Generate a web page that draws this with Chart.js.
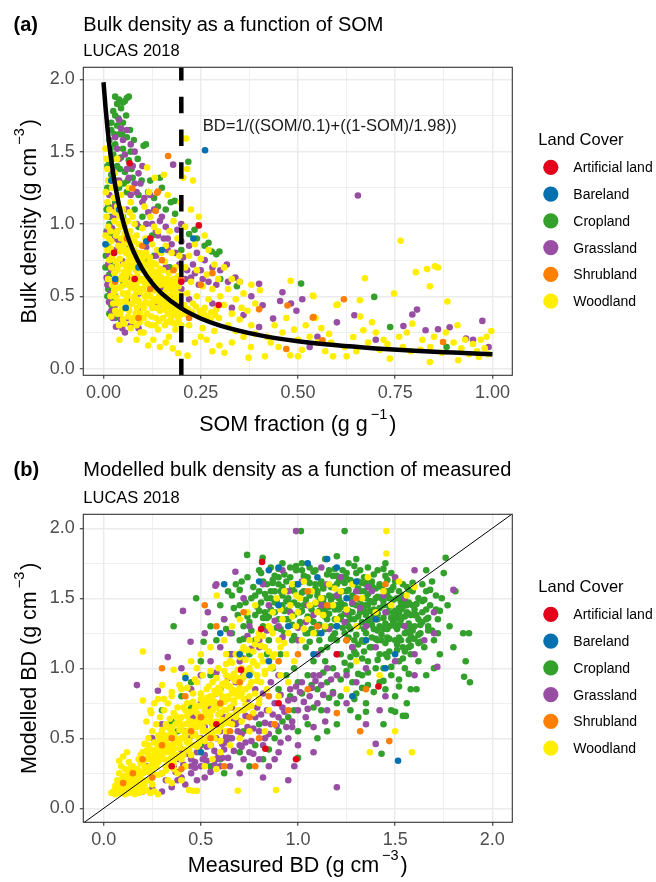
<!DOCTYPE html>
<html>
<head>
<meta charset="utf-8">
<title>Bulk density and SOM, LUCAS 2018</title>
<script src="https://cdn.jsdelivr.net/npm/chart.js@4.4.1/dist/chart.umd.min.js"></script>
<style>
  html, body { margin: 0; padding: 0; background: #fff; }
  .panel { position: relative; width: 656px; }
  #pa { height: 447px; }
  #pb { height: 435px; }
</style>
</head>
<body>
<div class="panel" id="pa"><canvas id="chartA"></canvas></div>
<div class="panel" id="pb"><canvas id="chartB"></canvas></div>
<script>
const FONT = "'Liberation Sans', Arial, Helvetica, sans-serif";
Chart.defaults.font.family = FONT;

const landCover = ["Artificial land", "Bareland", "Cropland", "Grassland", "Shrubland", "Woodland"];
const coverColours = ["#E3001B", "#0570B0", "#33A02C", "#984EA3", "#FF7F00", "#FFEE00"];
// lower number is drawn later (on top)
const drawRank = [1, 2, 6, 5, 3, 4];

const xTicksA = [0, 0.25, 0.5, 0.75, 1];
const yTicks = [0, 0.5, 1, 1.5, 2];
const xTicksB = [0, 0.5, 1, 1.5, 2];

// (a) pairs: SOM fraction, bulk density
const somArtificial = [.067,1.42,.245,.99,.027,.8,.296,.44,.08,.62,.2,.6,.12,.9];
const somBareland = [.261,1.51,.057,.42,.005,.86,.11,.88,.231,.9,.02,1.3,.04,1.1,.09,.7,.15,.82,.03,.62];
const somCropland = [.03,1.88,.04,1.86,.05,1.84,.06,1.87,.055,1.85,.035,1.83,.065,1.88,.045,1.8,.025,1.78,.03,1.75,.02,1.7,.035,1.68,.05,1.7,.02,1.65,.04,1.62,.06,1.6,.015,1.58,.03,1.55,.05,1.52,.07,1.5,.025,1.48,.045,1.46,.065,1.44,.015,1.42,.035,1.4,.055,1.36,.075,1.32,.02,1.34,.04,1.25,.06,1.22,.09,1.2,.01,1.25,.03,1.15,.05,1.05,.08,1.1,.103,1.54,.109,1.55,.218,1.43,.173,1.15,.183,1.16,.184,1.07,.14,1.12,.12,1.3,.15,1.25,.1,1.05,.015,1,.02,.92,.01,.85,.025,.72,.015,.65,.02,.6,.01,.5,.025,.46,.015,.38,.03,.35,.04,.38,.05,.58,.065,.85,.035,.95,.11,.75,.17,.7,.2,.82,.22,.93,.24,.9,.26,.85,.278,.81,.298,.81,.343,.57,.27,.87,.29,.79,.3,.62,.234,.96,.508,.588,.696,.496,.737,.288,.882,.15,.09,.98,.13,.78,.16,.6,.19,.58,.01,1.4,.008,1.1,.005,.7,.012,.55,
.018,1.52,.028,1.62,.038,1.73,.048,1.62,.058,1.75,.068,1.65,.078,1.58,.088,1.45,.098,1.3,.022,1.45,.032,1.3,.042,1.38,.052,1.28,.062,1.3,.072,1.38,.012,1.12,.018,1.05,.008,.95,.006,.78,.014,.7,.01,.62,.02,.44,.03,.5,.115,1.22,.13,1.18,.145,1.32,.16,1.1,.125,.92];
const somGrassland = [.04,1.72,.06,1.65,.05,1.58,.07,1.55,.03,1.6,.08,1.5,.1,1.4,.179,1.41,.08,1.28,.09,1.35,.06,1.38,.04,1.45,.02,1.3,.015,1.2,.025,1.05,.01,.95,.03,.9,.015,.78,.02,.68,.01,.58,.025,.52,.03,.44,.02,.4,.045,.34,.07,.3,.055,.25,.12,1.2,.13,1.1,.15,1.05,.11,1,.14,.92,.16,.98,.165,.9,.19,.96,.2,.88,.22,.85,.24,.8,.23,.72,.26,.75,.25,.68,.28,.7,.3,.68,.317,.72,.339,.63,.32,.6,.29,.58,.27,.6,.1,.7,.12,.62,.09,.52,.15,.56,.17,.5,.2,.55,.22,.48,.14,.44,.18,.38,.09,.42,.06,.47,.07,.63,.08,.8,.05,.74,.04,.88,.06,1.1,.1,1.15,.04,1.3,.07,1.2,.2,1,.28,.45,.33,.42,.36,.37,.4,.586,.409,.438,.436,.346,.4,.288,.46,.528,.454,.468,.482,.45,.496,.4,.511,.48,.53,.15,.645,.369,.654,1.197,.771,.295,.794,.374,.806,.408,.828,.265,.86,.272,.89,.286,.932,.208,.974,.33,.95,.2,.99,.15,.6,.32,.7,.2,.55,.22,.35,.6,.38,.5,.12,.88,.135,.78,.16,.7,.085,1,.11,.84,.21,.62,
.025,1.36,.035,1.52,.045,1.66,.055,1.48,.065,1.32,.075,1.4,.085,1.22,.095,1.28,.105,1.18,.115,1.08,.125,1,.135,.95,.145,1.02,.155,.9,.165,.82,.175,.86,.185,.8,.195,.72,.205,.77,.215,.68,.225,.63,.235,.66,.245,.58,.255,.62,.012,.72,.018,.52,.008,.63,.022,.97,.032,.82,.028,1.12,.014,.46,.024,.35,.048,.28,.062,.35,.09,.28,.032,.29];
const somShrubland = [.166,1.47,.138,1.215,.074,1.245,.134,1.09,.14,1.225,.06,.9,.1,.85,.15,.75,.18,.68,.2,.62,.12,.55,.25,.58,.22,.35,.09,.35,.4,.41,.473,.436,.538,.353,.47,.136,.563,.196,.618,.48,.873,.184,.54,.357,.03,.6,.28,.66];
const somWoodland = [.005,1.52,.008,1.45,.01,1.38,.012,1.3,.006,1.22,.01,1.15,.015,1.1,.008,1.05,.012,.98,.018,.95,.005,.92,.02,.88,.01,.82,.025,.8,.015,.75,.02,.7,.028,.66,.012,.62,.022,.58,.03,.55,.018,.5,.025,.45,.03,.4,.02,.36,.028,1.35,.022,1.25,.026,1.18,.03,1.08,.028,1.02,.032,.92,
.035,1.45,.04,1.28,.045,1.2,.035,1.12,.05,1.1,.04,1,.055,.98,.045,.9,.06,.92,.038,.85,.05,.82,.058,.8,.042,.76,.052,.72,.06,.7,.036,.68,.048,.64,.056,.6,.04,.56,.05,.52,.06,.5,.045,.46,.055,.42,.035,.38,.05,.34,.04,.3,.058,.88,.035,.95,.062,1.02,.048,1.05,.041,.2,
.065,1.25,.07,1.15,.075,1.05,.08,1,.068,.95,.085,.92,.072,.88,.09,.86,.078,.82,.095,.8,.066,.78,.082,.75,.07,.72,.088,.7,.098,.68,.064,.66,.076,.63,.092,.62,.084,.58,.07,.56,.096,.55,.062,.52,.08,.5,.09,.47,.074,.45,.086,.42,.066,.4,.094,.38,.078,.35,.085,.3,.07,.28,.095,.25,.085,.2,.1,.97,.067,1.08,
.112,1.39,.117,1.22,.132,1.32,.105,1.12,.12,1.05,.13,.98,.14,.95,.108,.9,.125,.86,.138,.82,.148,.8,.103,.77,.118,.74,.135,.72,.145,.69,.11,.66,.128,.64,.142,.6,.115,.58,.102,.55,.132,.54,.148,.52,.12,.5,.108,.46,.138,.47,.125,.42,.145,.4,.112,.38,.135,.35,.103,.25,.122,.3,.14,.27,.128,.2,.115,.16,.145,.15,.1,.62,
.155,1.34,.165,1.2,.198,1.15,.18,1.02,.17,.95,.19,.9,.16,.85,.175,.8,.195,.78,.158,.74,.185,.7,.168,.66,.192,.64,.152,.6,.178,.58,.162,.55,.188,.52,.172,.48,.196,.46,.155,.44,.182,.42,.165,.38,.19,.36,.175,.32,.158,.3,.185,.27,.168,.22,.192,.106,.178,.14,.16,.18,.2,.3,
.044,.62,.053,.67,.063,.74,.073,.77,.083,.68,.093,.73,.104,.7,.113,.61,.123,.68,.133,.6,.143,.64,.153,.68,.163,.62,.173,.6,.183,.55,.193,.57,.113,.52,.123,.56,.133,.48,.143,.5,.153,.48,.163,.45,.173,.42,.183,.47,.193,.41,.103,.42,.093,.53,.083,.54,.073,.6,.063,.58,
.033,.49,.047,.57,.057,.63,.067,.69,.077,.71,.087,.64,.097,.61,.107,.59,.117,.65,.127,.57,.137,.55,.147,.58,.157,.52,.167,.5,.177,.53,.187,.49,.197,.51,.037,.71,.043,.81,.053,.86,.063,.82,.069,.91,.079,.88,.089,.78,.099,.75,.109,.8,.119,.77,.129,.73,.139,.66,.149,.63,.159,.6,.169,.57,.179,.62,.189,.6,.027,.53,.038,.45,.047,.41,.057,.47,.067,.44,.077,.49,.087,.47,.097,.44,.107,.5,.117,.45,.127,.46,.137,.42,.147,.45,.157,.41,.167,.43,.177,.38,.187,.4,.197,.37,
.207,.44,.217,.41,.227,.39,.237,.43,.247,.4,.257,.38,.267,.36,.277,.39,.287,.37,.297,.35,.043,.38,.053,.31,.063,.36,.073,.33,.083,.38,.093,.32,.103,.35,.113,.31,.123,.36,.133,.3,.143,.33,.153,.35,.163,.32,.173,.34,.183,.31,.193,.33,.034,1.18,.042,1.05,.046,.98,.054,.93,.061,.87,.071,.84,.081,.79,.091,.76,.101,.73,.111,.71,.121,.71,.131,.67,.141,.62,.151,.6,.161,.58,.171,.55,.181,.52,.191,.48,.031,.74,.036,.62,.026,.6,.022,.77,.018,.83,.014,.9,
.212,1.59,.215,1.38,.205,1.32,.23,1.3,.225,1.1,.245,1.05,.21,.98,.26,.92,.235,.86,.27,.82,.22,.78,.25,.76,.285,.72,.21,.7,.24,.68,.265,.65,.295,.62,.225,.6,.255,.57,.28,.55,.215,.52,.24,.5,.27,.48,.3,.5,.23,.45,.26,.42,.29,.41,.21,.38,.245,.36,.275,.34,.22,.3,.255,.28,.285,.26,.216,.09,.235,.18,.265,.2,.298,.16,.28,.12,.25,.22,
.31,.7,.33,.62,.35,.6,.38,.58,.32,.55,.36,.52,.34,.48,.39,.45,.31,.44,.37,.4,.33,.38,.35,.34,.32,.3,.38,.3,.34,.26,.36,.22,.311,.11,.33,.18,.373,.076,.379,.15,.39,.24,.402,.542,.355,.42,
.415,.085,.42,.22,.44,.3,.43,.18,.46,.25,.48,.092,.481,.607,.5,.085,.5,.2,.52,.3,.53,.22,.538,.505,.55,.18,.56,.28,.57,.12,.58,.24,.59,.085,.599,.44,.54,.5,.602,.443,.45,.15,.47,.35,.49,.27,.51,.13,.545,.35,.585,.18,
.625,.085,.642,.219,.659,.473,.668,.265,.672,.625,.68,.18,.7,.25,.71,.13,.72,.2,.736,.069,.747,.519,.76,.22,.764,.884,.77,.15,.78,.25,.794,.311,.79,.12,.62,.15,.65,.12,.69,.32,.73,.17,.66,.36,
.803,.667,.832,.688,.852,.708,.86,.699,.839,.57,.839,.046,.82,.2,.84,.15,.85,.22,.87,.11,.884,.464,.9,.18,.912,.058,.92,.14,.93,.2,.94,.1,.95,.17,.96,.12,.97,.2,.98,.14,.99,.1,.997,.26,.985,.22,.965,.08,.88,.25,.91,.3,.815,.13];

// (a) fitted curve, read along the drawn line, and the 0.2 cut-off
const curveSOM = [0, .005, .01, .015, .02, .03, .04, .05, .06, .075, .1, .125, .15, .2, .25, .3, .4, .5, .6, .7, .8, .9, 1];
const curveBD = [1.98, 1.81, 1.667, 1.544, 1.439, 1.266, 1.13, 1.021, .93, .822, .688, .591, .518, .416, .347, .298, .232, .19, .161, .14, .123, .111, .1];
const somCutoff = 0.2;
const curveLabel = "BD=1/((SOM/0.1)+((1-SOM)/1.98))";

// (b) pairs: measured BD, modelled BD
const bdArtificial = [.815,1.76,.81,1.28,.707,.99,1.414,.87,.832,.425,.99,.35,.58,.6,.9,.75,1.2,1.1,.35,.3];
const bdBareland = [.421,.93,.8,1.62,.85,1.7,.9,1.72,1,1.6,1.05,1.75,1.1,1.65,1.15,1.78,1.2,1.72,1.25,1.5,1.3,1.62,1.35,1.2,1.4,1.35,1.45,1,1.5,1.1,1.515,.34,.95,1.3,.9,1.45,1.08,1.1,1.2,1.3,.7,1.1,.75,.95,.6,1.25,.5,.4,.85,1.05,1.28,.8,.62,1.6,1.12,1.25];
const bdCropland = [.6,1.45,.62,1.35,.64,1.55,.66,1.25,.68,1.6,.7,1.45,.72,1.3,.74,1.65,.76,1.5,.78,1.38,.8,1.7,.738,1.81,.818,1.79,.476,1.5,.36,1.3,.514,1.19,.55,1.3,.58,1.2,.5,1.05,.45,.9,.65,1.1,.7,1.2,.75,1.1,.8,1.55,.78,1.2,
.82,1.62,.84,1.5,.86,1.72,.88,1.4,.9,1.6,.92,1.75,.94,1.48,.96,1.65,.98,1.38,.82,1.3,.85,1.2,.88,1.55,.9,1.35,.93,1.25,.95,1.5,.97,1.2,.99,1.7,.84,1.1,.87,1,.91,1.1,.94,.95,.98,1,1,.9,.9,.85,.96,.8,1.015,1.98,.86,1.42,.92,1.45,.98,1.55,.83,1.4,
1,1.6,1.01,1.3,1.02,1.75,1.03,1.45,1.04,1.15,1.05,1.65,1.06,1.35,1.07,1.55,1.08,1.05,1.09,1.7,1.1,1.25,1.11,1.48,1.12,1.6,1.13,1.38,1.14,1.78,1.15,1.15,1.16,1.52,1.17,1.3,1.18,1.66,1.19,1.42,1.2,1.2,1.2,1.8,1.05,.95,1.1,.85,1.15,.9,1.2,.75,1.12,.7,1.18,1,1.02,.82,1.08,.72,1.04,1.25,1.14,1.05,1.06,1.72,1.16,1.7,1.24,1.98,
1.21,1.5,1.22,1.35,1.23,1.65,1.24,1.25,1.25,1.55,1.26,1.75,1.27,1.4,1.28,1.15,1.29,1.6,1.3,1.45,1.31,1.3,1.32,1.7,1.33,1.2,1.34,1.55,1.35,1.38,1.36,1.05,1.37,1.48,1.38,1.62,1.39,1.28,1.4,1.5,1.22,1.1,1.25,.98,1.28,.9,1.3,.82,1.33,.95,1.36,.88,1.38,1.15,1.4,1,1.26,1.3,1.32,1.4,1.35,1.6,1.24,1.45,1.29,1.2,1.34,1.12,1.38,1.35,1.22,.8,1.27,.7,1.31,.65,1.35,.75,1.25,1.68,1.3,1.78,1.36,1.72,
1.41,1.35,1.42,1.6,1.43,1.2,1.44,1.45,1.45,1.1,1.46,1.55,1.47,1.3,1.48,1.68,1.49,1.4,1.5,1.2,1.51,1.5,1.52,1.05,1.53,1.35,1.54,1.6,1.55,1.25,1.56,1.45,1.57,1.15,1.58,1.38,1.59,1.55,1.6,1.3,1.42,.9,1.45,.85,1.48,.95,1.5,.8,1.52,.92,1.55,1,1.58,.85,1.43,.39,1.54,.66,1.555,.66,1.44,1,1.46,1.22,1.5,1.62,1.53,1.42,1.57,1.2,1.41,1.7,1.45,1.75,1.47,1.5,1.51,1.28,1.6,1.42,1.56,.75,1.48,.7,1.44,.6,
1.62,1.5,1.63,1.25,1.64,1.4,1.65,1.15,1.66,1.55,1.67,1.3,1.68,1.45,1.7,1.2,1.72,1.35,1.74,1.5,1.75,1.68,1.76,1.79,1.78,1.3,1.8,1.15,1.81,1.55,1.85,1.25,1.88,1.25,1.863,1.05,1.855,.94,1.885,.9,1.62,1.05,1.66,.95,1.7,1,1.64,1.6,1.69,1.62,1.73,1.1,1.77,1.45,1.61,.85,1.66,1.7,
1.01,1.4,1.03,1.55,1.05,1.25,1.07,1.42,1.09,1.6,1.11,1.2,1.13,1.5,1.15,1.35,1.17,1.58,1.19,1.25,1.21,1.42,1.23,1.55,1.25,1.2,1.27,1.5,1.29,1.35,1.31,1.62,1.33,1.45,1.35,1.25,1.37,1.58,1.39,1.42,1.41,1.2,1.43,1.5,1.45,1.32,1.47,1.12,1.49,1.58,1.51,1.38,1.53,1.2,1.55,1.48,1.57,1.32,1.59,1.45,1.3,1.1,1.34,1.28,1.38,1.22,1.42,1.1,1.46,1.4,1.5,1.3,1.54,1.15,1.58,1.1,1.62,1.35,1.66,1.42,1.1,1.55,1.2,1.6,1.14,1.42,1.26,1.38,1.36,1.45,1.44,1.28,1.52,1.55,
1.13,1.47,1.27,1.63,.97,1.58,1.41,1.27,1.36,1.53,1.08,1.33,1.52,1.43,1.19,1.71,.88,1.66,1.31,1.17,1.46,1.63,1.23,1.29,1.04,1.49,1.58,1.23,1.37,1.41,.93,1.41,1.17,1.21,1.29,1.73,1.48,1.36,1.12,1.62,1.43,1.58,.81,1.47,1.33,1.33,1.21,1.53,1.06,1.19,1.54,1.52,1.27,1.08,.99,1.73,1.39,1.67,1.16,1.39,1.63,1.31,1.24,1.61,.91,1.28,1.47,1.21,1.32,1.49,1.09,1.57,1.57,1.39,1.22,1.37,1.01,1.33,1.44,1.71,1.34,1.19,1.14,1.28,1.51,1.13,.86,1.55,1.28,1.46,1.42,1.43,1.18,1.51,1.61,1.46,1.36,1.62,.96,1.46,1.26,1.22,1.49,1.49,1.11,1.41,1.67,1.27,1.38,1.31,1.03,1.66,1.53,1.31,1.2,1.45,.84,1.36,1.31,1.57,1.45,1.18,1.15,1.67,1.59,1.61,1.25,1.33,1.07,1.28,1.4,1.57,1.33,1.07,.94,1.62,1.19,1.35,1.55,1.37,1.28,1.52,1.46,1.28,1.02,1.41,1.71,1.42,1.35,1.45,1.12,1.13,1.62,1.18,1.23,1.7,.89,1.48,1.5,1.41,1.3,1.24,1.1,1.52,1.44,1.36,1.37,1.15,1.21,1.62,1.56,1.58,.98,1.23,1.26,1.41,1.41,1.51,1.16,1.44,1.64,1.48,1.34,1.65,1.05,1.37,1.52,1.22,1.27,1.28,.92,1.52,1.48,1.56,1.18,1.23,1.39,1.38,1.58,1.29,1.09,1.46,1.32,1.55,1.43,1.24,1.25,1.64,1.6,1.38,.95,1.35,1.2,1.3,1.47,1.44,1.35,1.5,1.13,1.57,1.54,1.44,1.29,1.12,1.38,1.59,1.02,1.54,1.5,1.35,1.22,1.47,1.66,1.35,1.42,1.3,1.08,1.69,1.31,1.37,1.45,1.66,.87,1.61,1.17,1.49,1.56,1.26,1.24,1.39,1.4,1.21,1.36,1.34,1.14,1.37,1.53,1.5,1.26,1.56,1,1.45,1.44,1.48,1.2,1.66,1.33,1.61,1.62,1.24,1.11,1.31,1.49,1.33,1.28,1.4,1.39,1.47,.9,1.71,1.23,1.44,1.57,1.47,1.34,1.41,1.06,1.61,1.46,1.52,1.3,1.68,1.18,1.58,1.52,1.39,1.41,1.39,1.27,1.35,
1.13,.97,1.27,1.02,1.41,1.06,1.33,.86,1.48,1.01,1.22,.92,1.36,.97,1.52,.87,1.18,.83,1.44,.91,1.29,.78,1.39,.83,1.07,.88,1.24,1.04,1.46,1.08,1.57,.96,1.31,.96,1.16,.79,1.5,.69,1.35,.69,
.66,1.52,.69,1.38,.71,1.62,.73,1.47,.75,1.33,.77,1.58,.79,1.44,.81,1.68,.83,1.53,.85,1.37,.87,1.63,.89,1.29,.91,1.55,.93,1.67,.95,1.42,.97,1.31,.99,1.6,.72,1.21,.76,1.27,.8,1.41,.84,1.6,.88,1.47,.92,1.58,.96,1.72,.63,1.28,.67,1.43,.7,1.56,.74,1.37,.78,1.52,.82,1.36,.86,1.5,.9,1.65,.94,1.35,.98,1.47,1.02,1.7,1.06,1.52,
1.51,1.17,1.53,1.47,1.55,1.12,1.57,1.56,1.59,1.27,1.61,1.38,1.63,1.19,1.65,1.49,1.67,1.36,1.69,1.27,1.71,1.52,1.73,1.41,1.52,1.31,1.56,1.4,1.6,1.21,1.64,1.33,1.68,1.56,1.72,1.25,1.54,1.07,1.58,1.16,
.3,.7,.35,.62,.4,.8,.42,.5,.5,.45,.55,.3,.6,.35,.62,.25,.65,.5,.7,.4,.72,.55,.75,.3,.78,.45,.8,.6,.82,.35,.85,.42,.88,.5,.9,.55,.92,.62,.95,.65,.98,.7,1,.55,1.05,.6,1.1,.5,1.15,.55,1.2,.6,1,.36,.55,.95,.6,.85,.45,.72,.38,.55];
const bdGrassland = [.2,.12,.25,.14,.3,.12,.32,.2,.35,.15,.38,.2,.4,.22,.42,.17,.45,.25,.48,.2,.5,.3,.52,.22,.55,.26,.58,.35,.6,.3,.45,.35,.48,.4,.5,.5,.52,.38,.55,.45,.58,.5,.6,.55,.62,.42,.64,.36,.66,.5,.68,.6,.7,.45,.72,.35,.74,.58,.76,.48,.78,.65,.8,.55,.82,.45,.84,.7,.86,.6,.88,.75,.9,.65,.92,.72,.94,.58,.96,.85,.98,.78,1,.7,1.02,.9,1.04,.65,1.06,.8,1.08,.95,1.1,.75,1.12,.88,1.15,.7,1.18,.82,1.2,.95,.65,.3,.7,.25,.75,.4,.8,.35,.85,.3,.9,.4,.981,.3,.62,.65,.66,.72,.7,.62,.74,.78,.78,.85,.82,.82,.86,.9,.9,.95,.56,.6,.6,.68,.52,.58,.44,.5,.4,.42,.36,.3,.42,.55,.35,.4,.3,.25,.28,.35,
.171,.88,.279,.84,.33,1.08,.447,1.19,.408,1.41,.536,1.4,.575,1.59,.58,1.6,.678,1.69,.99,1.98,.4,1,.45,.85,.5,.95,.55,1.05,.6,1.15,.65,1.25,.7,1.05,.75,1.3,.8,1.15,.85,1.45,.9,1.3,.95,1.55,1,1.2,1.05,1.45,1.1,1.3,1.15,1.6,1.2,1.1,1.25,1.4,1.3,1.55,1.35,1.3,1.4,1.15,1.45,1.4,1.5,1.05,1.55,1.3,1.6,1.1,1.65,1.2,1.7,1.4,1.717,1.01,1.8,1.56,1.4,.46,1.2,.15,1.3,.9,1.35,1,1.25,.75,1.45,.8,1.38,1.55,1.22,1.65,1.12,1.72,1.02,1.62,.92,1.7,.82,1.6,.72,1.5,.62,1.35,.52,1.25,.3,.6,.25,.5,.22,.3,.18,.2,.15,.15,1.6,.95,1.7,1.25,1.08,.58,1.14,.62,1,.45,.95,.5,.88,.35,1.15,1,1.25,.95,1.28,1.15,1.1,1.1,.68,.9,.72,.95,.58,.82,.54,.72,.46,.65,.5,.75,1.5,1.65,1.55,1.5,1.6,1.7,1.42,.7,1.35,.6,1.08,.4,.95,.2,.82,.22,
.37,.26,.41,.31,.47,.29,.53,.34,.57,.41,.61,.46,.67,.41,.71,.53,.77,.57,.83,.61,.87,.67,.93,.69,.97,.62,1.03,.76,1.07,.86,1.13,.81,1.17,.92,.43,.39,.49,.43,.55,.51,.59,.39,.63,.51,.69,.55,.73,.47,.79,.72,.85,.53,.91,.81,.99,.87,1.05,.71,1.11,.95,.47,.33,.53,.44,.61,.36,.67,.62,.73,.66,.81,.67,.89,.59,.95,.77,1.01,.83,1.09,.91,.39,.35,.45,.3,.51,.35,.57,.31,.63,.47,.71,.44,.77,.39,.83,.5,.91,.47,.97,.58,
.64,.93,.72,1.07,.8,1.2,.88,1.34,.96,1.4,1.04,1.33,1.12,1.45,1.2,1.52,1.28,1.47,1.36,1.58,1.44,1.52,.76,1.14,.84,1.27,.92,1.22,1,1.29,1.08,1.38,1.16,1.28,1.24,1.33,1.32,1.43,.58,.97,.66,1.1,.74,1.23];
const bdShrubland = [.1,.18,.15,.25,.2,.35,.25,.22,.3,.45,.35,.5,.4,.28,.45,.55,.5,.65,.55,.5,.6,.75,.62,.3,.65,.55,.7,.9,.75,.65,.8,.5,.85,.8,.9,1.05,.95,.7,1,1.1,1.05,.85,1.1,1.3,1.15,1.45,1.2,.68,1.25,1.2,1.3,1.5,1.35,.85,1.4,1.35,1.47,.48,1.45,1.6,1.32,.55,.72,1.4,.58,1.3,.42,.8,.3,1,.78,.3,.88,.6,1.05,1.55,.52,1.45];
const bdWoodland = [.05,.12,.06,.1,.07,.14,.08,.11,.09,.15,.1,.12,.11,.1,.12,.14,.13,.11,.14,.16,.15,.12,.16,.1,.17,.13,.18,.11,.19,.15,.2,.12,.07,.2,.08,.25,.1,.22,.12,.2,.14,.24,.16,.2,.18,.22,.2,.18,.09,.3,.11,.28,.13,.33,.15,.3,.17,.28,.19,.32,.21,.26,.06,.16,.04,.11,.1,.37,.12,.4,.08,.34,.22,.13,.24,.11,.26,.12,.28,.1,.23,.2,.25,.17,
.2,.4,.21,.46,.22,.35,.23,.5,.24,.42,.25,.3,.25,.55,.26,.38,.27,.47,.27,.6,.28,.33,.28,.52,.29,.42,.29,.65,.3,.25,.3,.36,.3,.56,.31,.48,.31,.7,.32,.3,.32,.4,.32,.6,.33,.52,.33,.75,.34,.35,.34,.45,.34,.64,.35,.55,.35,.8,.36,.28,.36,.42,.36,.68,.37,.5,.37,.6,.38,.38,.38,.72,.39,.46,.39,.56,.4,.65,.4,.85,.22,.62,.24,.7,.26,.75,.28,.78,.3,.88,.202,1.12,.202,.77,.245,.68,.36,.99,.33,.2,.35,.18,.38,.25,.4,.2,.42,.3,.44,.13,.46,.125,.48,.125,
.41,.5,.42,.42,.42,.6,.43,.55,.43,.75,.44,.48,.44,.68,.45,.38,.45,.62,.46,.52,.46,.82,.47,.45,.47,.7,.48,.58,.48,.9,.49,.5,.49,.66,.5,.4,.5,.6,.5,.78,.51,.55,.51,.95,.52,.48,.52,.7,.53,.62,.53,.85,.54,.52,.54,.75,.55,.45,.55,.66,.56,.58,.56,.9,.57,.5,.57,.72,.58,.62,.58,.82,.59,.55,.59,1,.6,.68,.6,.48,.582,1.52,.45,1.05,.5,1.1,.55,1.15,.48,1,.42,.95,.52,.3,.56,.35,.58,.28,.6,.4,
.61,.6,.61,.78,.62,.7,.62,.88,.63,.55,.63,.95,.64,.65,.64,.8,.65,.72,.65,1.05,.66,.6,.66,.85,.67,.75,.67,.92,.68,.68,.68,1.1,.69,.8,.7,.7,.7,.9,.71,.62,.71,1,.72,.78,.72,1.15,.73,.85,.74,.72,.74,.95,.75,.8,.75,1.2,.76,.9,.77,.68,.77,1.05,.78,.82,.79,.95,.8,.75,.8,1.25,.62,1.2,.66,1.3,.7,1.35,.74,1.4,.78,1.45,.69,.125,.7,.5,.75,.55,.65,.45,.63,1.1,
.81,.9,.82,1.05,.83,1.15,.84,.85,.85,1.3,.86,1,.87,1.4,.88,1.1,.89,1.5,.887,.13,.9,1.2,.91,.95,.92,1.35,.93,1.55,.94,1.1,.95,1.25,.96,1.45,.97,1.6,.98,1.05,.99,1.3,1,1.4,1.01,1.5,1.02,1.2,1.03,1.62,1.05,1.35,1.06,1.45,1.07,1.55,1.08,1.25,1.1,1.4,1.12,1.5,1.14,1.3,1.16,1.6,1.18,1.45,1.2,1.35,.85,.7,.9,.8,.95,.9,.88,.6,.83,.55,
1.22,1.55,1.25,1.42,1.28,1.6,1.3,1.3,1.33,1.5,1.36,1.65,1.4,1.4,1.44,1.55,1.455,1.82,1.455,1.98,1.48,1.45,1.52,1.62,1.56,1.52,1.6,1.58,1.37,.4,1.586,.4,1.3,1.05,1.25,.85,1.42,.95,1.5,.55,1.35,1.2,
.12,.18,.14,.2,.16,.24,.18,.27,.2,.25,.22,.28,.24,.3,.26,.33,.28,.36,.3,.4,.32,.43,.34,.4,.36,.46,.38,.48,.4,.5,.42,.52,.44,.55,.46,.58,.48,.62,.5,.64,.52,.66,.54,.68,.56,.7,.58,.72,.6,.74,.62,.76,.64,.78,.66,.82,.68,.84,.7,.86,.23,.38,.27,.42,.31,.52,.35,.58,.39,.62,.43,.66,.47,.72,.51,.76,.55,.8,.59,.86,.63,.9,.67,.96,.71,.92,.75,1,.79,1.02,.83,.98,.87,1.08,.91,1.15,.2,.2,.25,.26,.33,.33,.37,.36,.41,.38,.45,.45,.49,.46,.53,.55,.57,.6,.61,.63,.65,.66,.69,.7,.73,.74,
.08,.13,.11,.16,.13,.22,.15,.19,.17,.23,.19,.21,.21,.3,.23,.26,.25,.34,.27,.3,.29,.39,.31,.35,.33,.44,.35,.39,.37,.48,.39,.43,.41,.55,.43,.47,.45,.58,.47,.53,.49,.64,.51,.58,.53,.69,.55,.62,.57,.76,.59,.67,.61,.8,.63,.7,.65,.87,.67,.77,.69,.93,.71,.82,.73,.97,.75,.87,.77,1.04,.79,.91,.81,1.09,.83,.96,.85,1.12,.87,1.01,
.14,.29,.18,.35,.22,.41,.26,.47,.3,.54,.34,.57,.38,.64,.42,.7,.46,.76,.5,.82,.54,.87,.58,.93,.62,.98,.66,1.04,.7,1.08,.74,1.13,.78,1.17,.82,1.23,.86,1.28,
.16,.13,.2,.15,.24,.2,.28,.24,.32,.27,.36,.32,.4,.35,.44,.41,.48,.44,.52,.49,.56,.54,.6,.58,.64,.61,.68,.65,.72,.7,.76,.73,.8,.78,
.13,.26,.19,.38,.23,.45,.29,.49,.33,.58,.37,.66,.41,.72,.45,.69,.49,.73,.53,.79,.57,.84,.61,.89,.65,.94,.69,.99,.73,1.06,.77,1.12,.81,1.16,
.06,.13,.09,.11,.12,.12,.15,.14,.18,.16,.21,.17,.1,.16,.13,.17,.16,.17,.19,.19,.07,.17,.09,.2,.11,.23,.15,.27,.2,.33,.24,.37,.28,.44,.32,.48,.36,.53,.4,.59,.44,.62,.48,.68,.52,.73,.56,.78,.6,.84,.64,.87,.68,.91,.72,.94,.76,.97,
.31,.78,.35,.83,.39,.88,.43,.86,.47,.92,.55,.98,.63,1.03,.71,1.12,.79,1.21,.87,1.25,.93,1.18,.97,1.37,1.03,1.28,1.09,1.47,1.13,1.38,1.19,1.57,.91,1.42,.99,1.52];

const pairs = arr => {
  const out = [];
  for (let i = 0; i < arr.length; i += 2) out.push({ x: arr[i], y: arr[i + 1] });
  return out;
};

function coverSets(series) {
  return series.map((s, i) => ({
    label: landCover[i],
    data: pairs(s),
    backgroundColor: coverColours[i],
    pointRadius: 3.3,
    pointHoverRadius: 3.3,
    pointBorderWidth: 0,
    order: drawRank[i],
    clip: 0
  }));
}

const onStep = (v, step) => Math.abs(v / step - Math.round(v / step)) < 1e-6;

function axis(min, max, majors, step, dp, pad, fit) {
  const all = [];
  majors.forEach((v, i) => {
    all.push(v);
    if (i < majors.length - 1) all.push((v + majors[i + 1]) / 2);
  });
  return {
    type: "linear",
    min: min,
    max: max,
    afterBuildTicks: s => { s.ticks = all.map(v => ({ value: v })); },
    afterFit: fit,
    border: { display: false },
    grid: {
      color: "#EBEBEB",
      lineWidth: c => (c.tick && onStep(c.tick.value, step)) ? 1.5 : 0.8,
      tickColor: c => (c.tick && onStep(c.tick.value, step)) ? "#333333" : "rgba(0,0,0,0)",
      tickLength: 3.5,
      tickWidth: 1.1
    },
    ticks: {
      autoSkip: false,
      maxRotation: 0,
      padding: pad,
      color: "#4D4D4D",
      font: { size: 18 },
      callback: v => onStep(v, step) ? v.toFixed(dp) : ""
    }
  };
}

function axisTitle(ctx, parts, x, y, rotate) {
  ctx.save();
  ctx.translate(x, y);
  if (rotate) ctx.rotate(-Math.PI / 2);
  ctx.textAlign = "left";
  ctx.textBaseline = "alphabetic";
  ctx.fillStyle = "#000";
  const big = "21.5px " + FONT, small = "14.5px " + FONT;
  ctx.font = big;
  const w1 = ctx.measureText(parts[0]).width, w3 = ctx.measureText(parts[2]).width;
  ctx.font = small;
  const w2 = ctx.measureText(parts[1]).width;
  let px = -(w1 + w2 + w3 + 5) / 2;
  ctx.font = big; ctx.fillText(parts[0], px, 0); px += w1 + 3;
  ctx.font = small; ctx.fillText(parts[1], px, -12); px += w2 + 2;
  ctx.font = big; ctx.fillText(parts[2], px, 0);
  ctx.restore();
}

const decor = {
  id: "decor",
  afterDraw(chart, args, o) {
    const ctx = chart.ctx, a = chart.chartArea;
    const mid = (a.top + a.bottom) / 2;
    ctx.save();
    ctx.strokeStyle = "#333333";
    ctx.lineWidth = 1.1;
    ctx.strokeRect(a.left, a.top, a.right - a.left, a.bottom - a.top);

    ctx.fillStyle = "#000";
    ctx.textAlign = "left";
    ctx.textBaseline = "alphabetic";
    ctx.font = "bold 20px " + FONT;
    ctx.fillText(o.tag, 13.5, a.top - o.titleGap);
    ctx.font = "20px " + FONT;
    ctx.fillText(o.title, a.left, a.top - o.titleGap);
    ctx.font = "16.5px " + FONT;
    ctx.fillText(o.subtitle, a.left, a.top - 11.4);

    if (o.note) {
      const nx = chart.scales.x.getPixelForValue(o.note.x);
      const ny = chart.scales.y.getPixelForValue(o.note.y);
      ctx.font = "16.5px " + FONT;
      ctx.fillStyle = "#1A1A1A";
      ctx.fillText(o.note.text, nx, ny + 8.3);
    }

    axisTitle(ctx, o.xTitle, (a.left + a.right) / 2, a.bottom + o.xTitleGap, false);
    axisTitle(ctx, o.yTitle, 35.5, mid, true);

    ctx.fillStyle = "#000";
    ctx.font = "16.5px " + FONT;
    ctx.fillText("Land Cover", 538.3, mid - 76.4);
    ctx.font = "14px " + FONT;
    landCover.forEach((name, i) => {
      const cy = mid - 54 + 26.75 * i;
      ctx.beginPath();
      ctx.arc(550.8, cy, 7.6, 0, Math.PI * 2);
      ctx.fillStyle = coverColours[i];
      ctx.fill();
      ctx.fillStyle = "#000";
      ctx.fillText(name, 573.3, cy + 5);
    });
    ctx.restore();
  }
};

function baseOptions(xs, ys, deco) {
  return {
    responsive: true,
    maintainAspectRatio: false,
    animation: false,
    events: [],
    devicePixelRatio: 1,
    layout: { padding: { top: 67.3, right: 143.7, bottom: 0, left: 0 } },
    scales: { x: xs, y: ys },
    plugins: { legend: { display: false }, tooltip: { enabled: false }, decor: deco }
  };
}

const fitY = s => { s.width = 83.3; };

// panel (a)
const yMinA = -0.046, yMaxA = 2.083;
new Chart(document.getElementById("chartA"), {
  type: "scatter",
  data: {
    datasets: [
      {
        label: "fit",
        data: curveSOM.map((v, i) => ({ x: v, y: curveBD[i] })),
        showLine: true,
        borderColor: "#000",
        borderWidth: 4.5,
        pointRadius: 0,
        cubicInterpolationMode: "monotone",
        order: 0,
        clip: 0
      },
      {
        label: "cutoff",
        data: [{ x: somCutoff, y: yMinA }, { x: somCutoff, y: yMaxA }],
        showLine: true,
        borderColor: "#000",
        borderWidth: 4.5,
        borderDash: [16.5, 16.25],
        pointRadius: 0,
        order: 0,
        clip: 0
      }
    ].concat(coverSets([somArtificial, somBareland, somCropland, somGrassland, somShrubland, somWoodland]))
  },
  options: baseOptions(
    axis(-0.052, 1.051, xTicksA, 0.25, 2, 3.7, s => { s.height = 447 - 375.3; }),
    axis(yMinA, yMaxA, yTicks, 0.5, 1, 5, fitY),
    {
      tag: "(a)",
      title: "Bulk density as a function of SOM",
      subtitle: "LUCAS 2018",
      titleGap: 36.6,
      note: { text: curveLabel, x: 0.255, y: 1.7 },
      xTitle: ["SOM fraction (g g", "\u22121", ")"],
      xTitleGap: 55.7,
      yTitle: ["Bulk density (g cm", "\u22123", ")"]
    }),
  plugins: [decor]
});

// panel (b)
const xMinB = -0.105, xMaxB = 2.103;
new Chart(document.getElementById("chartB"), {
  type: "scatter",
  data: {
    datasets: [
      {
        label: "1:1",
        data: [{ x: xMinB, y: xMinB }, { x: xMaxB, y: xMaxB }],
        showLine: true,
        borderColor: "#000",
        borderWidth: 1,
        pointRadius: 0,
        order: 0,
        clip: 0
      }
    ].concat(coverSets([bdArtificial, bdBareland, bdCropland, bdGrassland, bdShrubland, bdWoodland]))
  },
  options: baseOptions(
    axis(xMinB, xMaxB, xTicksB, 0.5, 1, 3.7, s => { s.height = 435 - 375.3; }),
    axis(-0.1, 2.1, yTicks, 0.5, 1, 5, fitY),
    {
      tag: "(b)",
      title: "Modelled bulk density as a function of measured",
      subtitle: "LUCAS 2018",
      titleGap: 38,
      xTitle: ["Measured BD (g cm", "\u22123", ")"],
      xTitleGap: 49.4,
      yTitle: ["Modelled BD (g cm", "\u22123", ")"]
    }),
  plugins: [decor]
});
</script>
</body>
</html>
